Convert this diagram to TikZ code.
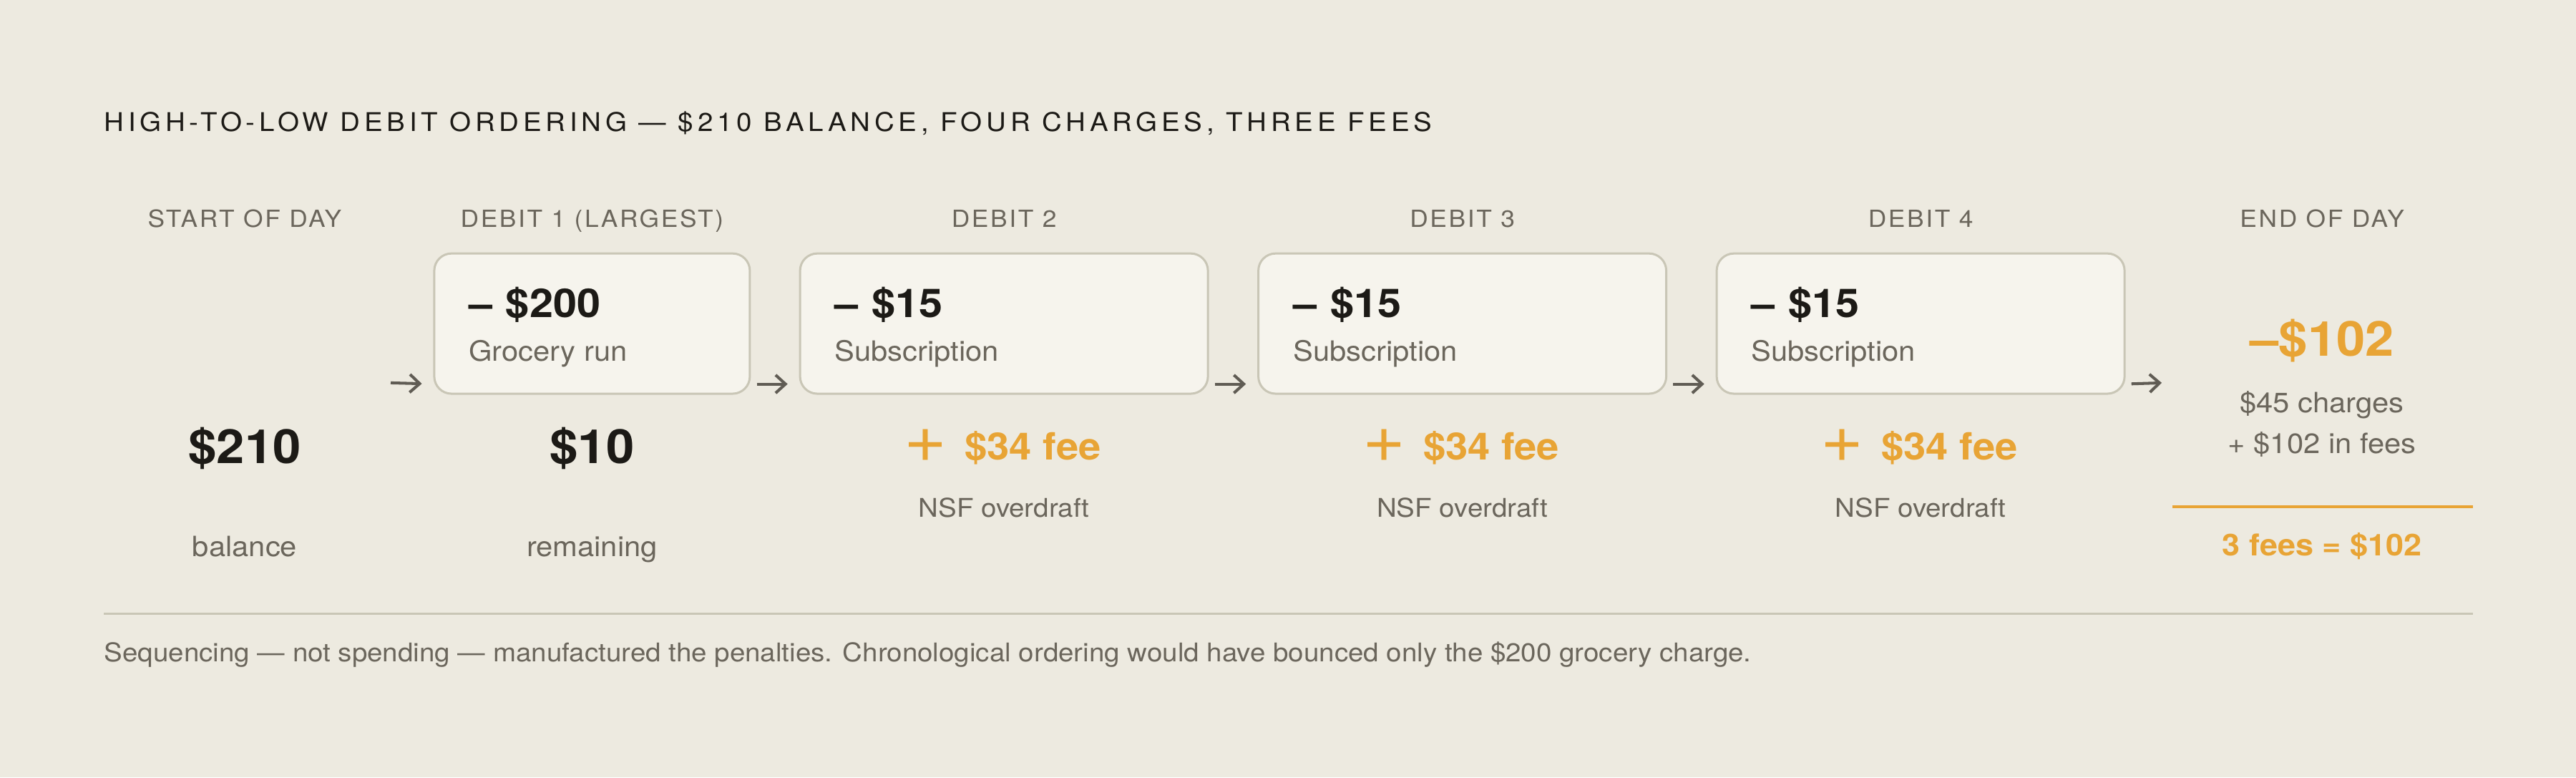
\documentclass[tikz,border=0pt]{standalone}
\usepackage{fontspec}
\setmainfont[FakeStretch=1.07]{TeX Gyre Heros}
\newfontfamily\trackedfont[FakeStretch=1.07,LetterSpace=16]{TeX Gyre Heros}
\newfontfamily\headfont[FakeStretch=1.07,LetterSpace=8]{TeX Gyre Heros}
\usetikzlibrary{arrows.meta}

\definecolor{paper}{HTML}{EDEAE0}
\definecolor{card}{HTML}{F6F4ED}
\definecolor{rule}{HTML}{C9C6B6}
\definecolor{ink}{HTML}{1C1A16}
\definecolor{inkgray}{HTML}{6B665C}
\definecolor{arrowgray}{HTML}{605C54}
\definecolor{fee}{HTML}{E8A435}

\tikzset{
  lbl/.style={inner sep=0pt, anchor=base},
  titletxt/.style={lbl, font=\trackedfont\fontsize{12}{14}\selectfont, text=ink},
  colhead/.style={lbl, font=\headfont\fontsize{11}{13}\selectfont, text=inkgray},
  bignum/.style={lbl, font=\bfseries\fontsize{22}{26}\selectfont, text=ink},
  amount/.style={lbl, anchor=base west, font=\bfseries\fontsize{18.5}{22}\selectfont, text=ink},
  smalltxt/.style={lbl, font=\fontsize{13}{16}\selectfont, text=inkgray},
  feetxt/.style={lbl, anchor=base west, font=\bfseries\fontsize{17.5}{22}\selectfont, text=fee},
  plussign/.style={inner sep=0pt, font=\fontsize{32}{32}\selectfont, text=fee},
  debitbox/.style={draw=rule, line width=1pt, fill=card, rounded corners=8pt,
    minimum height=65.3pt, inner sep=0pt},
  flow/.style={-{Straight Barb[length=4.6pt,width=8.4pt]}, line width=1.35pt, draw=arrowgray,
    shorten <=2.7pt, shorten >=5.3pt}
}

\begin{document}
\begin{tikzpicture}[x=1pt,y=-1pt]
  \fill[paper] (0,0) rectangle (1200,362);
  \useasboundingbox (0,0) rectangle (1200,362);

  \node[titletxt, anchor=base west] (title) at (48.3,61)
    {HIGH-TO-LOW DEBIT ORDERING — \$210 BALANCE, FOUR CHARGES, THREE FEES};

  % column heads
  \node[colhead] (hstart) at (114,105.7) {START OF DAY};
  \node[colhead] (hdeb1) at (275.8,105.7) {DEBIT 1 (LARGEST)};
  \node[colhead] (hdeb2) at (467.7,105.7) {DEBIT 2};
  \node[colhead] (hdeb3) at (681.2,105.7) {DEBIT 3};
  \node[colhead] (hdeb4) at (894.7,105.7) {DEBIT 4};
  \node[colhead] (hend) at (1081.7,105.7) {END OF DAY};

  % debit cards
  \node[debitbox, minimum width=147pt] (box1) at (275.8,150.7) {};
  \node[debitbox, minimum width=190pt] (box2) at (467.7,150.7) {};
  \node[debitbox, minimum width=190pt] (box3) at (681.2,150.7) {};
  \node[debitbox, minimum width=190pt] (box4) at (894.7,150.7) {};

  \node[amount] (amt1) at (218.3,147.7) {–\,\,\$200};
  \node[smalltxt, anchor=base west] (what1) at (218.3,168) {Grocery run};
  \node[amount] (amt2) at (388.7,147.7) {–\,\,\$15};
  \node[smalltxt, anchor=base west] (what2) at (388.7,168) {Subscription};
  \node[amount] (amt3) at (602.3,147.7) {–\,\,\$15};
  \node[smalltxt, anchor=base west] (what3) at (602.3,168) {Subscription};
  \node[amount] (amt4) at (815.7,147.7) {–\,\,\$15};
  \node[smalltxt, anchor=base west] (what4) at (815.7,168) {Subscription};

  % flow arrows
  \coordinate (in) at (182,178.3);
  \coordinate (out) at (1007,178.3);
  \draw[flow, shorten <=0pt] (in) -- ([yshift=5pt]box1.south west);
  \draw[flow] ([yshift=5pt]box1.south east) -- ([yshift=5pt]box2.south west);
  \draw[flow] ([yshift=5pt]box2.south east) -- ([yshift=5pt]box3.south west);
  \draw[flow] ([yshift=5pt]box3.south east) -- ([yshift=5pt]box4.south west);
  \draw[flow, shorten >=0pt] ([yshift=5pt]box4.south east) -- (out);

  % balances
  \node[bignum] (bal) at (114,215.8) {\$210};
  \node[smalltxt] (ballbl) at (114,259) {balance};
  \node[bignum] (rest) at (275.8,215.8) {\$10};
  \node[smalltxt] (restlbl) at (275.8,259) {remaining};

  % fees
  \node[plussign] (plus2) at (431.3,207.5) {+};
  \node[feetxt] (fee2) at (449.3,214) {\$34 fee};
  \node[smalltxt, font=\fontsize{12}{15}\selectfont] (nsf2) at (467.7,240.7) {NSF overdraft};
  \node[plussign] (plus3) at (644.8,207.5) {+};
  \node[feetxt] (fee3) at (662.8,214) {\$34 fee};
  \node[smalltxt, font=\fontsize{12}{15}\selectfont] (nsf3) at (681.2,240.7) {NSF overdraft};
  \node[plussign] (plus4) at (858.3,207.5) {+};
  \node[feetxt] (fee4) at (876.3,214) {\$34 fee};
  \node[smalltxt, font=\fontsize{12}{15}\selectfont] (nsf4) at (894.7,240.7) {NSF overdraft};

  % end of day
  \node[bignum, text=fee, font=\bfseries\fontsize{22.5}{27}\selectfont] (final) at (1081.7,165.7) {–\$102};
  \node[smalltxt] (charges) at (1081.7,192.3) {\$45 charges};
  \node[smalltxt] (fees) at (1081.7,211) {+ \$102 in fees};
  \draw[fee, line width=1.5pt] (1012,236) -- (1152,236);
  \node[lbl, font=\bfseries\fontsize{14}{17}\selectfont, text=fee] (total) at (1081.7,258.7) {3 fees = \$102};

  % footer
  \draw[rule, line width=1pt] (48.3,285.7) -- (1152,285.7);
  \node[smalltxt, anchor=base west, font=\fontsize{12}{14}\selectfont] (note) at (48.3,308)
    {Sequencing — not spending — manufactured the penalties. Chronological ordering would have bounced only the \$200 grocery charge.};
\end{tikzpicture}
\end{document}
